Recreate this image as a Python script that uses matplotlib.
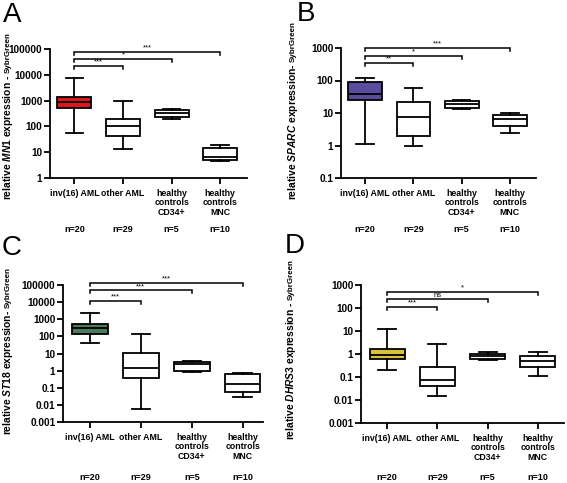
import matplotlib
matplotlib.use("Agg")
import matplotlib.pyplot as plt
import numpy as np

plt.rcParams['font.family'] = ['Liberation Sans', 'DejaVu Sans']
plt.rcParams['font.weight'] = 'bold'
plt.rcParams['mathtext.fontset'] = 'custom'
plt.rcParams['mathtext.rm'] = 'Liberation Sans:bold'
plt.rcParams['mathtext.it'] = 'Liberation Sans:italic:bold'
plt.rcParams['mathtext.bf'] = 'Liberation Sans:bold'

categories = ["inv(16) AML", "other AML", "healthy\ncontrols\nCD34+", "healthy\ncontrols\nMNC"]
n_labels = ["n=20", "n=29", "n=5", "n=10"]

# box stats: whislo, q1, med, q3, whishi
mn1_stats = [[55, 515, 860, 1380, 7500],
             [13, 44, 107, 200, 940],
             [200, 240, 340, 445, 480],
             [4.4, 5.1, 6.3, 14.5, 19.5]]
sparc_stats = [[1.14, 25.7, 37.5, 90, 117],
               [0.94, 2.0, 7.4, 22, 60],
               [13.6, 14.3, 19, 23.5, 24.5],
               [2.5, 3.9, 6.7, 8.7, 10]]
st18_stats = [[42, 129, 320, 500, 2400],
              [0.0055, 0.38, 1.4, 11, 129],
              [0.81, 0.97, 2.4, 3.3, 3.5],
              [0.029, 0.055, 0.17, 0.63, 0.68]]
dhrs3_stats = [[0.2, 0.6, 0.95, 1.58, 12],
               [0.0145, 0.04, 0.071, 0.26, 2.6],
               [0.54, 0.6, 0.85, 1.05, 1.17],
               [0.107, 0.27, 0.49, 0.81, 1.17]]

mn1_sig = ["***", "*", "***"]
sparc_sig = ["**", "*", "***"]
st18_sig = ["***", "***", "***"]
dhrs3_sig = ["***", "ns", "*"]

panels = [
    dict(letter="A", gene="MN1", stats=mn1_stats, color="#de1620", ylim=(1, 1e5),
         ticks=[1, 10, 100, 1000, 10000, 100000], sig=mn1_sig, sig_y=[10**4.33, 10**4.61, 10**4.9],
         pos=[50, 247, 49, 178], xl=(-0.5, 3.55), sep=" - ",
         lab=(8, 200), npx=51, let=(3, 15)),
    dict(letter="B", gene="SPARC", stats=sparc_stats, color="#5a4b9c", ylim=(0.1, 1000),
         ticks=[0.1, 1, 10, 100, 1000], sig=sparc_sig, sig_y=[347, 575, 1000],
         pos=[341, 536, 48, 178], xl=(-0.5, 3.54), sep="- ",
         lab=(293, 200), npx=51, let=(297, 14)),
    dict(letter="C", gene="ST18", stats=st18_stats, color="#4e7a5c", ylim=(0.001, 1e5),
         ticks=[0.001, 0.01, 0.1, 1, 10, 100, 1000, 10000, 100000], sig=st18_sig,
         sig_y=[10**4.09, 10**4.68, 10**5.1],
         pos=[63, 263, 285, 422], xl=(-0.53, 3.4), sep="- ",
         lab=(8, 435), npx=56, let=(2, 248)),
    dict(letter="D", gene="DHRS3", stats=dhrs3_stats, color="#d8c23c", ylim=(0.001, 1000),
         ticks=[0.001, 0.01, 0.1, 1, 10, 100, 1000], sig=dhrs3_sig,
         sig_y=[10**2.06, 10**2.38, 10**2.71],
         pos=[361, 564, 285, 423], xl=(-0.52, 3.52), sep=" - ",
         lab=(291, 440), npx=54, let=(285, 246)),
]

W, H = 567, 483
fig = plt.figure(figsize=(W / 100, H / 100), dpi=100)

def fmt(v):
    if v >= 1:
        return "%d" % int(round(v))
    return ("%.3f" % v).rstrip("0")

for p in panels:
    x0, x1, ytop, ybot = p["pos"]
    ax = fig.add_axes([x0 / W, 1 - ybot / H, (x1 - x0) / W, (ybot - ytop) / H])
    stats = []
    for s in p["stats"]:
        stats.append(dict(whislo=s[0], q1=s[1], med=s[2], q3=s[3], whishi=s[4], fliers=[]))
    bp = ax.bxp(stats, positions=range(4), widths=0.7, patch_artist=True, showfliers=False,
                boxprops=dict(linewidth=1.3, edgecolor="black"),
                whiskerprops=dict(linewidth=1.3, color="black"),
                capprops=dict(linewidth=1.3, color="black"),
                medianprops=dict(linewidth=1.3, color="black"),
                capwidths=0.36)
    for i, b in enumerate(bp["boxes"]):
        b.set_facecolor(p["color"] if i == 0 else "white")
    ax.set_yscale("log")
    ax.set_ylim(*p["ylim"])
    ax.set_xlim(*p["xl"])
    ax.set_yticks(p["ticks"])
    ax.set_yticklabels([fmt(t) for t in p["ticks"]])
    ax.yaxis.set_minor_locator(matplotlib.ticker.NullLocator())
    ax.set_xticks(range(4))
    ax.set_xticklabels(categories, fontsize=6.3, fontweight="bold", linespacing=1.05)
    ax.tick_params(axis="y", labelsize=7.2, width=1.3, length=4, direction="out", pad=1.5)
    ax.tick_params(axis="x", width=1.3, length=4, direction="out", pad=4)
    for sp in ["top", "right"]:
        ax.spines[sp].set_visible(False)
    for sp in ["left", "bottom"]:
        ax.spines[sp].set_linewidth(1.3)
    for t in ax.get_yticklabels() + ax.get_xticklabels():
        t.set_fontweight("bold")
    # n labels
    for i, nl in enumerate(n_labels):
        ax.annotate(nl, xy=(i, 0), xycoords=("data", "axes fraction"), xytext=(0, -p["npx"] * 0.72),
                    textcoords="offset points", ha="center", va="center", fontsize=6.5,
                    fontweight="bold", annotation_clip=False)
    # significance brackets
    span = np.log10(p["ylim"][1] / p["ylim"][0])
    hpx = ybot - ytop
    for j, (lab, yv) in enumerate(zip(p["sig"], p["sig_y"])):
        xr = j + 1
        ylo = yv / 10 ** (span * 3.0 / hpx)
        ax.plot([0, 0, xr, xr], [ylo, yv, yv, ylo], color="black", lw=1.1,
                clip_on=False, solid_joinstyle="miter")
        ax.annotate(lab, xy=(xr / 2, yv), xytext=(0, 0.3), textcoords="offset points",
                    ha="center", va="bottom", fontsize=5.5, fontweight="normal",
                    annotation_clip=False)
    ax.set_facecolor("none")
    # y label
    lx, lb = p["lab"]
    main = fig.text(lx / W, 1 - lb / H, "relative $\\it{%s}$ expression%s" % (p["gene"], p["sep"]),
                    rotation=90, ha="center", va="bottom", fontsize=7.4, fontweight="bold")
    fig.canvas.draw()
    bb = main.get_window_extent()
    fig.text(lx / W, (bb.y1 + 1) / H, "SybrGreen", rotation=90, ha="center", va="bottom",
             fontsize=5.8, fontweight="bold")
    fig.text(p["let"][0] / W, 1 - p["let"][1] / H, p["letter"], fontsize=20,
             fontweight="normal", va="center", ha="left")

fig.savefig("out.png", dpi=100, facecolor="white")
